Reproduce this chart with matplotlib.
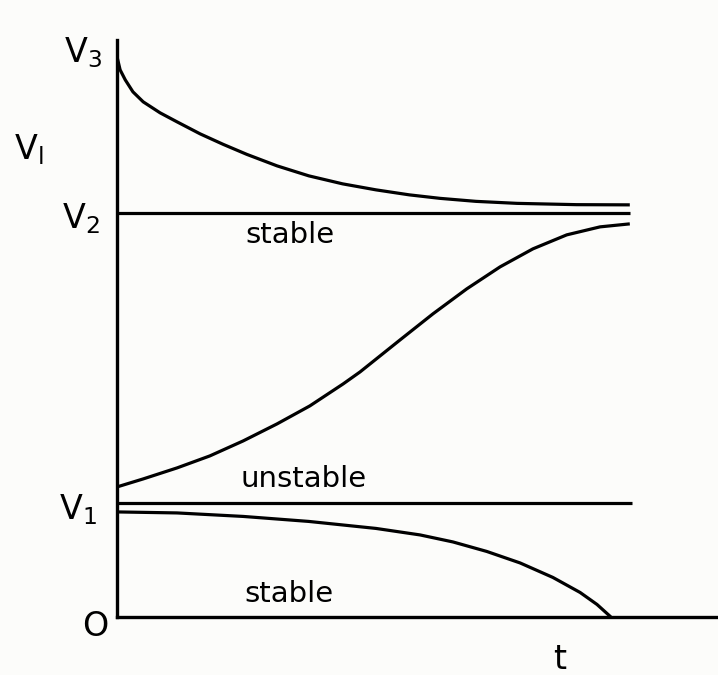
import matplotlib
matplotlib.use("Agg")
from matplotlib import pyplot as plt

plt.rcParams['mathtext.fontset'] = 'dejavusans'

# curves (t, V)
t_top = [0, 0.06, 0.16, 0.31, 0.51, 0.84, 1.17, 1.62, 2.07, 2.53, 3.12, 3.74,
         4.40, 5.05, 5.70, 6.30, 7.00, 7.80, 8.96, 10.0]
v_top = [5.60, 5.47, 5.37, 5.25, 5.15, 5.04, 4.95, 4.83, 4.725, 4.625, 4.51, 4.41,
         4.33, 4.27, 4.22, 4.185, 4.155, 4.135, 4.122, 4.12]

t_mid = [0, 0.51, 1.17, 1.81, 2.46, 3.12, 3.76, 4.41, 4.74, 5.52, 6.16, 6.82,
         7.47, 8.11, 8.77, 9.42, 10.0]
v_mid = [1.30, 1.38, 1.49, 1.61, 1.76, 1.93, 2.11, 2.33, 2.45, 2.77, 3.03, 3.28,
         3.50, 3.68, 3.82, 3.90, 3.93]

t_low = [0, 1.17, 2.46, 3.74, 5.05, 5.91, 6.55, 7.21, 7.86, 8.50, 9.03, 9.36, 9.63]
v_low = [1.05, 1.04, 1.005, 0.955, 0.885, 0.82, 0.75, 0.655, 0.54, 0.395, 0.245, 0.125, 0.0]

V1 = 1.14
V2 = 4.04
t_end = 10.0

fig = plt.figure(figsize=(7.18, 6.75), dpi=100)
fig.patch.set_facecolor('#fcfcfa')
ax = fig.add_axes([0.163, 0.086, 0.837, 0.855])
ax.set_facecolor('#fcfcfa')

lw = 2.3
style = dict(color='black', lw=lw, solid_joinstyle='round', solid_capstyle='butt')
ax.plot(t_top, v_top, **style)
ax.plot(t_mid, v_mid, **style)
ax.plot(t_low, v_low, **style)
ax.plot([0, t_end], [V2, V2], **style)
ax.plot([0, t_end + 0.05], [V1, V1], **style)

ax.set_xlim(0, 11.72)
ax.set_ylim(0, 5.77)
for s in ['top', 'right']:
    ax.spines[s].set_visible(False)
for s in ['left', 'bottom']:
    ax.spines[s].set_linewidth(2.4)
ax.set_xticks([])
ax.set_yticks([])

fs = 24
ax.text(-0.3, 5.64, r'$\mathrm{V}_3$', fontsize=fs, ha='right', va='center', clip_on=False)
ax.text(-0.33, 3.98, r'$\mathrm{V}_2$', fontsize=fs, ha='right', va='center', clip_on=False)
ax.text(-0.39, 1.07, r'$\mathrm{V}_1$', fontsize=fs, ha='right', va='center', clip_on=False)
ax.text(-1.73, 4.67, r'$\mathrm{V}_\mathrm{l}$', fontsize=fs, ha='center', va='center', clip_on=False)
ax.text(-0.43, -0.10, 'O', fontsize=fs, ha='center', va='center', clip_on=False)
ax.text(8.64, -0.43, 't', fontsize=fs, ha='center', va='center', clip_on=False)

ax.text(3.37, 3.82, 'stable', fontsize=21, ha='center', va='center')
ax.text(3.63, 1.38, 'unstable', fontsize=21, ha='center', va='center')
ax.text(3.35, 0.23, 'stable', fontsize=21, ha='center', va='center')

fig.savefig('out.png', dpi=100, facecolor=fig.get_facecolor())
